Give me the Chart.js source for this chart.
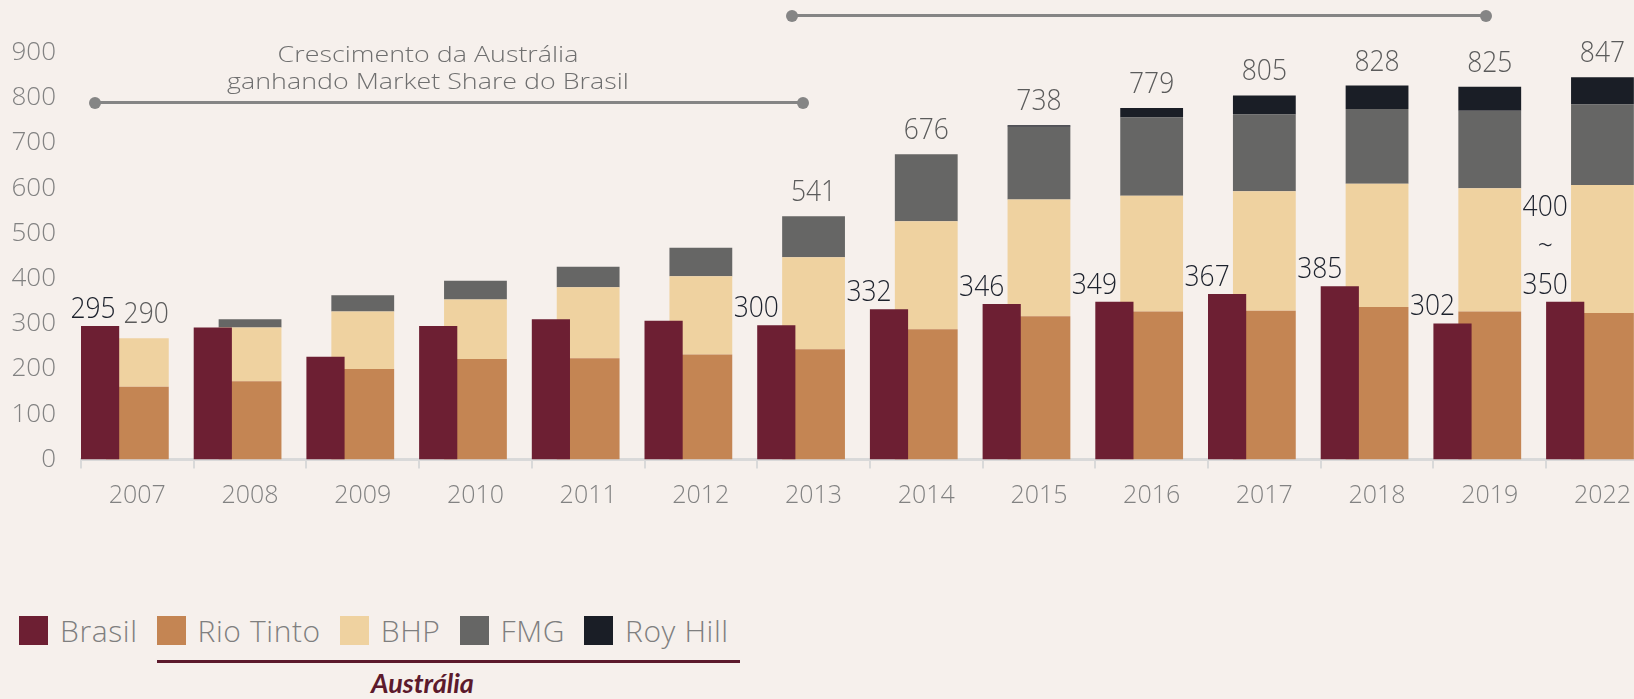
<!DOCTYPE html>
<html lang="pt-BR">
<head>
<meta charset="utf-8">
<title>Brasil x Austrália - produção</title>
<script src="https://cdn.jsdelivr.net/npm/chart.js@4.4.1/dist/chart.umd.min.js"></script>
<style>
    html, body { margin: 0; padding: 0; }
    body {
        width: 1634px;
        height: 699px;
        overflow: hidden;
        position: relative;
        background: #f6f0ec;
        font-family: 'Open Sans', sans-serif;
    }
    #wrap { position: absolute; left: 0; top: 0; }
    .span-line {
        position: absolute;
        height: 3px;
        background: #858585;
    }
    .span-line::before, .span-line::after {
        content: '';
        position: absolute;
        top: -4.5px;
        width: 12px;
        height: 12px;
        border-radius: 50%;
        background: #858585;
    }
    .span-line::before { left: -6px; }
    .span-line::after { right: -6px; }
    .note {
        position: absolute;
        left: 228px;
        width: 400px;
        top: 40px;
        text-align: center;
        color: #6f6f6f;
        font-weight: 300;
        font-size: 22px;
        line-height: 27px;
        transform: scaleX(1.22);
        transform-origin: 200px 0;
    }
    #legend {
        position: absolute;
        left: 19px;
        top: 616px;
        display: flex;
        align-items: center;
        height: 29px;
    }
    .item { display: flex; align-items: center; margin-right: 19px; }
    .box { width: 29px; height: 29px; margin-right: 12px; }
    .lbl { font-size: 30px; font-weight: 300; color: #7f7f7f; line-height: 29px; letter-spacing: 0.6px; }
    #underline { position: absolute; top: 660px; height: 3px; background: #5c1a2c; }
    #aus {
        position: absolute;
        left: 371px;
        top: 666px;
        font-family: Lato, sans-serif;
        font-weight: bold;
        font-style: italic;
        font-size: 27px;
        color: #5c1a2c;
    }
</style>
</head>
<body>
<div id="wrap"><canvas id="prodChart" width="1660" height="540"></canvas></div>

<div class="span-line" style="left:95px; width:708px; top:101px;"></div>
<div class="span-line" style="left:792px; width:694px; top:14px;"></div>
<div class="note">Crescimento da Austrália<br>ganhando Market Share do Brasil</div>

<div id="legend"></div>
<div id="underline"></div>
<div id="aus">Austrália</div>

<script>
// categories
const years = ['2007', '2008', '2009', '2010', '2011', '2012', '2013',
    '2014', '2015', '2016', '2017', '2018', '2019', '2022'];

// series
const brasil   = [295, 292, 227, 295, 310, 307, 297, 332, 344, 349, 366, 383, 301, 349];
const rioTinto = [161, 173, 200, 222, 224, 232, 244, 288, 317, 327, 329, 337, 327, 324];
const bhp      = [107, 119, 127, 132, 157, 173, 203, 239, 258, 256, 264, 273, 273, 283];
const fmg      = [0, 18, 36, 41, 45, 63, 91, 148, 161, 173, 170, 165, 171, 178];
const royHill  = [0, 0, 0, 0, 0, 0, 0, 0, 3, 21, 42, 52, 53, 60];

// labels printed on the slide
const brasilLabels = ['295', '', '', '', '', '', '300', '332', '346', '349', '367', '385', '302', '400\n~\n350'];
const totalLabels  = ['290', '', '', '', '', '', '541', '676', '738', '779', '805', '828', '825', '847'];

// y axis
const yMax = 900;
const yStep = 100;

const COLORS = {
    brasil: '#6d1f33',
    rioTinto: '#c48553',
    bhp: '#efd2a0',
    fmg: '#666665',
    royHill: '#1a1e26'
};

const series = [
    { label: 'Brasil', data: brasil, color: COLORS.brasil, stack: 'brasil' },
    { label: 'Rio Tinto', data: rioTinto, color: COLORS.rioTinto, stack: 'aus' },
    { label: 'BHP', data: bhp, color: COLORS.bhp, stack: 'aus' },
    { label: 'FMG', data: fmg, color: COLORS.fmg, stack: 'aus' },
    { label: 'Roy Hill', data: royHill, color: COLORS.royHill, stack: 'aus' }
];

// Brasil bar sits left of the australian stack and overlaps it a little
const BAR_PCT = { brasil: 1.025, aus: 1.686 };

const datasets = series.map(s => ({
    label: s.label,
    data: s.data,
    stack: s.stack,
    backgroundColor: s.color,
    borderWidth: 0,
    barPercentage: BAR_PCT[s.stack],
    categoryPercentage: 0.9916
}));
// empty stack on the right so the australian bar stays centred in its year
datasets.push({ label: 'spacer', data: [], stack: 'spacer', categoryPercentage: 0.9916 });

const TEXT_SCALE = 0.88;

// narrow-looking numbers like the slide font
function drawNarrow(ctx, txt, x, y) {
    ctx.save();
    ctx.translate(x, y);
    ctx.scale(TEXT_SCALE, 1);
    ctx.fillText(txt, 0, 0);
    ctx.restore();
}

/**
 * Draw value labels above the bars
 */
const valueLabels = {
    id: 'valueLabels',
    afterDatasetsDraw(chart) {
        const ctx = chart.ctx;
        const area = chart.chartArea;
        const brMeta = chart.getDatasetMeta(0);
        const topMeta = chart.getDatasetMeta(4);
        ctx.save();
        ctx.textAlign = 'center';
        ctx.textBaseline = 'alphabetic';
        ctx.font = '300 30px "Open Sans"';

        const halfW = (t) => ctx.measureText(t).width * TEXT_SCALE / 2;

        // Brasil values, shifted to the left of the bar
        const brPos = [];
        ctx.fillStyle = '#1c212c';
        brasilLabels.forEach((txt, i) => {
            if (!txt) return;
            const el = brMeta.data[i];
            const x = Math.max(el.x - 20, area.left + 12);
            const lines = txt.split('\n');
            let y = el.y - 8;
            brPos[i] = { right: x + halfW(lines[lines.length - 1]), y };
            for (let k = lines.length - 1; k >= 0; k--) {
                drawNarrow(ctx, lines[k], x, y);
                y -= 39;
            }
        });

        // totals of the australian stack, kept clear of a Brasil label at the same height
        ctx.fillStyle = '#5b5b5b';
        totalLabels.forEach((txt, i) => {
            if (!txt) return;
            const el = topMeta.data[i];
            const y = el.y - 15;
            let x = el.x;
            const br = brPos[i];
            if (br && Math.abs(br.y - y) < 25) {
                x = Math.max(x, br.right + 8 + halfW(txt));
            }
            drawNarrow(ctx, txt, x, y);
        });
        ctx.restore();
    }
};

const ctx = document.getElementById('prodChart').getContext('2d');
new Chart(ctx, {
    type: 'bar',
    data: { labels: years, datasets },
    options: {
        responsive: false,
        animation: false,
        layout: { padding: { top: 52.5, right: 1.2, left: 0, bottom: 0 } },
        plugins: {
            legend: { display: false },
            tooltip: { enabled: false }
        },
        scales: {
            x: {
                stacked: true,
                afterFit: (scale) => { scale.height = 80.5; },
                border: { display: true, color: '#d9d9d9', width: 3 },
                grid: {
                    offset: true,
                    drawOnChartArea: false,
                    drawTicks: true,
                    tickLength: 9,
                    color: '#d9d9d9',
                    lineWidth: 2
                },
                ticks: {
                    color: '#828282',
                    padding: 12,
                    font: { family: 'Open Sans', size: 25, weight: 300 }
                }
            },
            y: {
                stacked: true,
                min: 0,
                max: yMax,
                afterFit: (scale) => { scale.width = 81; },
                border: { display: false },
                grid: { display: false, drawTicks: false },
                ticks: {
                    stepSize: yStep,
                    padding: 25,
                    color: '#828282',
                    font: { family: 'Open Sans', size: 26, weight: 300 }
                }
            }
        }
    },
    plugins: [valueLabels]
});

// legend
const legend = document.getElementById('legend');
series.forEach(s => {
    const item = document.createElement('div');
    item.className = 'item';
    const box = document.createElement('div');
    box.className = 'box';
    box.style.background = s.color;
    const lbl = document.createElement('span');
    lbl.className = 'lbl';
    lbl.textContent = s.label;
    item.appendChild(box);
    item.appendChild(lbl);
    legend.appendChild(item);
});

// underline under the australian companies
const items = legend.querySelectorAll('.item');
const first = items[1].querySelector('.box').getBoundingClientRect();
const last = items[items.length - 1].querySelector('.lbl').getBoundingClientRect();
const underline = document.getElementById('underline');
underline.style.left = first.left + 'px';
underline.style.width = (last.right + 11 - first.left) + 'px';
</script>
</body>
</html>
